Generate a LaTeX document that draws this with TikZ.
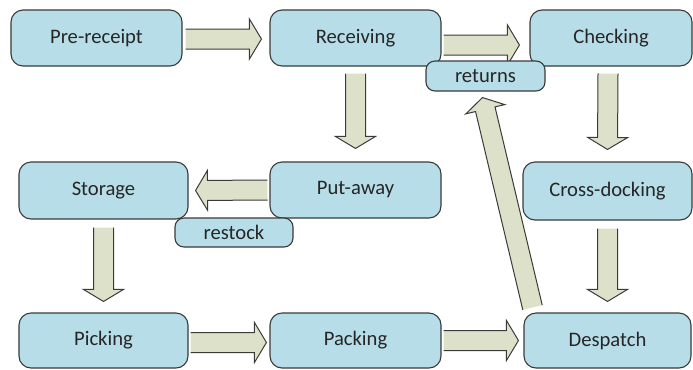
\documentclass[tikz,border=0pt]{standalone}
\usepackage{fontspec}
\setmainfont{Carlito}
\usepackage{tikz}
\usetikzlibrary{calc,backgrounds}
\definecolor{caja}{HTML}{B7DEE8}
\definecolor{flecha}{HTML}{DDE1CA}
\definecolor{borde}{HTML}{3A3A3A}
\definecolor{texto}{HTML}{262626}

\begin{document}
\begin{tikzpicture}[x=1bp,y=-1bp,font=\fontsize{20.7}{24}\selectfont,
box/.style={rectangle,rounded corners=12bp,draw=borde,fill=caja,line width=1.1bp,text=texto,minimum width=171bp,minimum height=56bp,inner sep=0pt},
tagbox/.style={box,rounded corners=9bp,minimum width=118bp,minimum height=29bp},
barrow/.style={fill=flecha,draw=borde,line width=1bp,line join=miter,
  to path={($(\tikztostart)!10bp!90:(\tikztotarget)$)
    -- ($($(\tikztotarget)!12bp!(\tikztostart)$)!10bp!-90:(\tikztostart)$)
    -- ($($(\tikztotarget)!12bp!(\tikztostart)$)!20bp!-90:(\tikztostart)$)
    -- (\tikztotarget)
    -- ($($(\tikztotarget)!12bp!(\tikztostart)$)!20bp!90:(\tikztostart)$)
    -- ($($(\tikztotarget)!12bp!(\tikztostart)$)!10bp!90:(\tikztostart)$)
    -- ($(\tikztostart)!10bp!-90:(\tikztotarget)$)}}]
\useasboundingbox (0,0) rectangle (693,369);

\node[box] (pre) at (96.5,38) {Pre-receipt};
\node[box] (rec) at (355.5,38) {Receiving};
\node[box,minimum width=162bp] (chk) at (611,38) {Checking};
\node[box,minimum width=169bp,minimum height=57bp] (sto) at (103.5,190.5) {Storage};
\node[box] (put) at (355.5,190) {Put-away};
\node[box,minimum width=169bp,minimum height=58bp] (crs) at (607.5,191) {Cross-docking};
\node[box,minimum width=169bp,minimum height=55bp] (pick) at (103.5,340.5) {Picking};
\node[box,minimum height=55bp] (pack) at (355.5,340.5) {Packing};
\node[box,minimum width=167bp,minimum height=55bp] (desp) at (607.5,340.5) {Despatch};

\node[tagbox,minimum width=119bp,minimum height=30bp] (ret) at (485.5,76) {returns};
\node[tagbox] (rst) at (234,232.5) {restock};

% block arrows go under the boxes
\begin{pgfonlayer}{background}
\draw[barrow] ([xshift=3bp,yshift=-1bp]pre.east) to ([xshift=-8bp,yshift=-1bp]rec.west);
\draw[barrow] ([xshift=2bp,yshift=-7bp]rec.east) to ([xshift=-10bp,yshift=-7bp]chk.west);
\draw[barrow] ([yshift=-7bp]rec.south) to ([yshift=13bp]put.north);
\draw[barrow] ([xshift=-3bp,yshift=-7bp]chk.south) to ([yshift=12bp]crs.north);
\draw[barrow] ([xshift=-2bp]put.west) to ([xshift=7bp]sto.east);
\draw[barrow] ([yshift=-8bp]sto.south) to ([yshift=11bp]pick.north);
\draw[barrow] ([xshift=2bp,yshift=-2bp]pick.east) to ([xshift=-3bp,yshift=-2bp]pack.west);
\draw[barrow] ([xshift=2bp]pack.east) to ([xshift=-5bp]desp.west);
\draw[barrow] ([yshift=-8bp]crs.south) to ([yshift=11bp]desp.north);
\draw[barrow] ([xshift=-75bp,yshift=5bp]desp.north) to ([xshift=-3bp,yshift=-6bp]ret.south);
\end{pgfonlayer}
\end{tikzpicture}
\end{document}
